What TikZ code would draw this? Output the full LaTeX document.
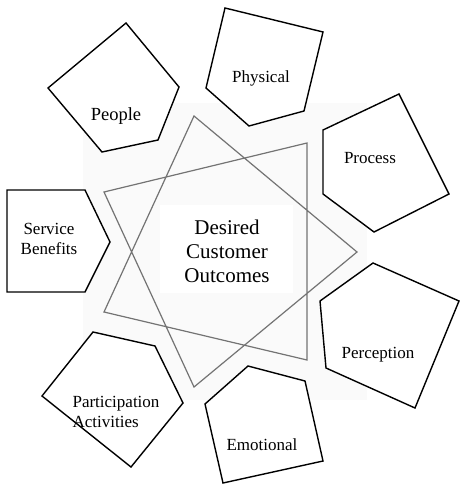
\documentclass[tikz,border=0pt]{standalone}
\usepackage{fontspec}
\setmainfont{Liberation Serif}
\begin{document}
\begin{tikzpicture}[x=1pt,y=-1pt,
  pent/.style={draw=black,fill=white,line width=1.4pt,line join=miter},
  starline/.style={draw=black!55,line width=1.2pt,line join=miter},
  lbl/.style={font=\fontsize{17}{19.5}\selectfont,align=center,inner sep=0pt},
]
\useasboundingbox (0,0) rectangle (459,486);
% faint background
\fill[black!2] (83,103) rectangle (367,400);
% pentagons
\draw[pent] (7,190) -- (85,190) -- (110,242) -- (85,292) -- (7,292) -- cycle;
\draw[pent] (126,23) -- (179,87) -- (158,140) -- (102,152) -- (48,88) -- cycle;
\draw[pent] (225,8) -- (323,32) -- (304,111) -- (249,126) -- (206,88) -- cycle;
\draw[pent] (399,94) -- (449,194) -- (374,232) -- (323,194) -- (323,130) -- cycle;
\draw[pent] (373,263) -- (459,301) -- (415,408) -- (326,368) -- (320,301) -- cycle;
\draw[pent] (248,366) -- (305,381) -- (323,461) -- (223,483) -- (205,404) -- cycle;
\draw[pent] (93,332) -- (155,346) -- (183,403) -- (131,467) -- (42,396) -- cycle;
% center white box
\fill[white] (160,205) rectangle (293,293);
% heptagram
\coordinate (v0) at (357,252);
\coordinate (v1) at (307,360);
\coordinate (v2) at (194,387);
\coordinate (v3) at (104,312);
\coordinate (v4) at (104,192);
\coordinate (v5) at (194,116);
\coordinate (v6) at (307,143);
\draw[starline] (v0) -- (v2) -- (v4) -- (v6) -- (v1) -- (v3) -- (v5) -- cycle;
% labels
\node[lbl,font=\fontsize{21}{24}\selectfont] (center) at (227,251) {Desired\\Customer\\Outcomes};
\node[lbl,font=\fontsize{18.5}{21}\selectfont] (people) at (116,116) {People};
\node[lbl] (physical) at (261,78) {Physical};
\node[lbl] (process) at (370,158) {Process};
\node[lbl] (perception) at (378,355) {Perception};
\node[lbl] (emotional) at (262,445) {Emotional};
\node[lbl,align=left] (particip) at (116,412) {Participation\\Activities};
\node[lbl] (service) at (49,239) {Service\\Benefits};
\end{tikzpicture}
\end{document}
